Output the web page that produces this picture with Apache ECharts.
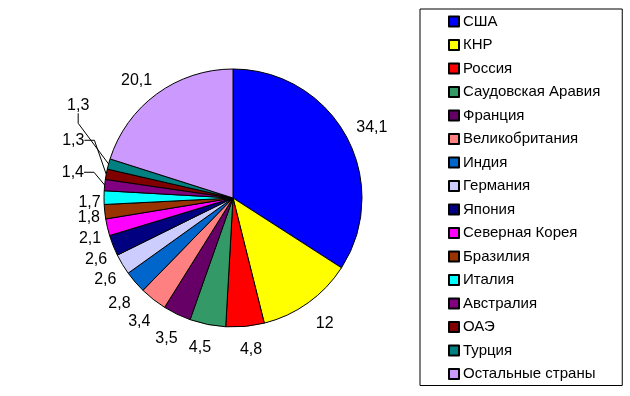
<!DOCTYPE html>
<html><head><meta charset="utf-8">
<script src="https://cdn.jsdelivr.net/npm/echarts@6/dist/echarts.min.js"></script>
<style>html,body{margin:0;padding:0;background:#fff}#c{width:630px;height:396px}</style>
</head><body><div id="c"></div>
<script>
var countries = ['США','КНР','Россия','Саудовская Аравия','Франция','Великобритания','Индия','Германия','Япония','Северная Корея','Бразилия','Италия','Австралия','ОАЭ','Турция','Остальные страны'];
var shares = [34.1,12,4.8,4.5,3.5,3.4,2.8,2.6,2.6,2.1,1.8,1.7,1.4,1.3,1.3,20.1];
var colors = ['#0000FF','#FFFF00','#FF0000','#339966','#660066','#FF8080','#0066CC','#CCCCFF','#000080','#FF00FF','#993300','#00FFFF','#800080','#800000','#008080','#CC99FF'];
var withLine = ['Австралия','ОАЭ','Турция'];
// small text nudges [dx, dy] for the value labels
var labelNudge = [[0,-5],[0,14],[-9,15],[8,-11],[13,-2],[7,-1],[2,-1],[-1,-7],[-2,-9],[-2,-12],[1,-15],[4,-12],[4,-24],[3,-38],[4,-55],[3,-7]];

var data = countries.map(function(n,i){
  var d = {name:n, value:shares[i], itemStyle:{color:colors[i]}};
  if (withLine.indexOf(n) >= 0) {
    d.labelLine = {show:true, length:14, length2:10};
  }
  return d;
});

var chart = echarts.init(document.getElementById('c'), null, {renderer:'canvas'});
chart.setOption({
  animation:false,
  legend:{
    orient:'vertical', left:420, top:9,
    padding:[4,22,3,28],
    borderColor:'#000', borderWidth:1,
    itemWidth:10, itemHeight:10, itemGap:6.5,
    selectedMode:false,
    icon:'rect',
    textStyle:{fontFamily:'Liberation Sans, Arial', fontSize:15, color:'#000', lineHeight:17, padding:[0,0,0,-1]},
    data:countries
  },
  series:[{
    type:'pie',
    center:[233,198],
    radius:129,
    startAngle:90,
    clockwise:true,
    avoidLabelOverlap:true,
    itemStyle:{borderColor:'#000', borderWidth:1},
    label:{
      show:true, position:'outside',
      fontFamily:'Liberation Sans, Arial', fontSize:16, color:'#000',
      lineHeight:16,
      distanceToLabelLine:3,
      formatter:function(p){return String(p.value).replace('.',',');}
    },
    labelLine:{show:false, length:8, length2:0, lineStyle:{color:'#000', width:1}},
    labelLayout:function(p){
      var n = labelNudge[p.dataIndex];
      var r = p.labelRect;
      return {
        x: r.x + r.width/2 + n[0],
        y: r.y + r.height/2 + n[1],
        align:'center', verticalAlign:'middle'
      };
    },
    emphasis:{disabled:true},
    data:data
  }]
});
</script></body></html>
